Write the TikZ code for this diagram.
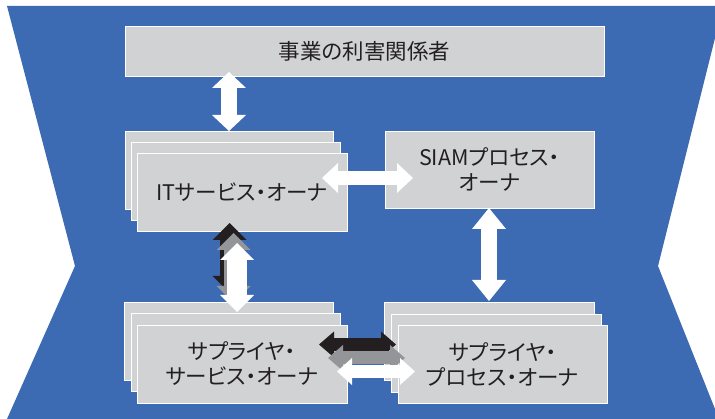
\documentclass[tikz,border=0pt]{standalone}
\usepackage{fontspec}
\setmainfont[RawFeature=+palt]{Noto Sans CJK JP}
\usetikzlibrary{arrows.meta}
\definecolor{bg}{HTML}{3C6BB3}
\definecolor{boxg}{HTML}{D1D2D4}
\definecolor{txt}{HTML}{231F20}
\definecolor{arrk}{HTML}{231F20}
\definecolor{arrg}{HTML}{939598}
\begin{document}
\begin{tikzpicture}[x=1pt,y=-1pt,
  box/.style={fill=boxg,draw=white,line width=0.9pt,inner sep=0pt,text=txt,
    font=\fontsize{21.5}{25}\selectfont,align=center},
  dbl/.style n args={3}{line width=#1,
    arrows={Triangle[width=#2,length=#3,line width=0pt]-Triangle[width=#2,length=#3,line width=0pt]}}
]
\useasboundingbox (0,0) rectangle (715,419);
\fill[white] (0,0) rectangle (715,419);
\fill[bg] (7,6) -- (723,6) -- (658,266) -- (719,419) -- (7,419) -- (75,266) -- cycle;

% top box
\node[box,minimum width=479pt,minimum height=50pt] (stake) at (364.5,51) {事業の利害関係者};

% IT service owner stack
\node[box,minimum width=208pt,minimum height=78pt] (it3) at (229,170) {};
\node[box,minimum width=209pt,minimum height=78pt] (it2) at (235.5,181) {};
\node[box,minimum width=210pt,minimum height=78pt] (it) at (242,192) {ITサービス・オーナ};

% SIAM
\node[box,minimum width=209pt,minimum height=77pt] (siam) at (489.5,169.5) {SIAMプロセス・\\オーナ};

% supplier service owner stack
\node[box,minimum width=209pt,minimum height=78pt] (ss3) at (228.5,341) {};
\node[box,minimum width=209pt,minimum height=78pt] (ss2) at (235.5,352) {};
\node[box,minimum width=210pt,minimum height=78pt] (ss) at (242,364) {サプライヤ・\\サービス・オーナ};

% supplier process owner stack
\node[box,minimum width=210pt,minimum height=78pt] (sp3) at (489,341) {};
\node[box,minimum width=210pt,minimum height=78pt] (sp2) at (496,353) {};
\node[box,minimum width=209pt,minimum height=78pt] (sp) at (502.5,364) {サプライヤ・\\プロセス・オーナ};

% arrow end points
\coordinate (a1) at (229,72);
\coordinate (a2) at (229,131);
\coordinate (b1) at (322,178);
\coordinate (b2) at (413,178);
\coordinate (c1) at (489,208);
\coordinate (c2) at (489,301);
\coordinate (k1) at (229.5,223);
\coordinate (k2) at (229.5,293);
\coordinate (g1) at (233.5,233);
\coordinate (g2) at (233.5,303);
\coordinate (w1) at (237,243);
\coordinate (w2) at (237,312);
\coordinate (hk1) at (319,344.5);
\coordinate (hk2) at (396,344.5);
\coordinate (hg1) at (328,358);
\coordinate (hg2) at (405,358);
\coordinate (hw1) at (337,371.5);
\coordinate (hw2) at (415,371.5);

\draw[white,dbl={16pt}{34pt}{16pt}] (a1) -- (a2);
\draw[white,dbl={14pt}{30pt}{16pt}] (b1) -- (b2);
\draw[white,dbl={16pt}{34pt}{21pt}] (c1) -- (c2);

\draw[arrk,dbl={20pt}{34pt}{17pt}] (k1) -- (k2);
\draw[arrg,dbl={20pt}{34pt}{17pt}] (g1) -- (g2);
\draw[white,dbl={20pt}{34pt}{17pt}] (w1) -- (w2);

\draw[arrk,dbl={13pt}{26pt}{15pt}] (hk1) -- (hk2);
\draw[arrg,dbl={13pt}{26pt}{15pt}] (hg1) -- (hg2);
\draw[white,dbl={13pt}{27pt}{15pt}] (hw1) -- (hw2);
\end{tikzpicture}
\end{document}
